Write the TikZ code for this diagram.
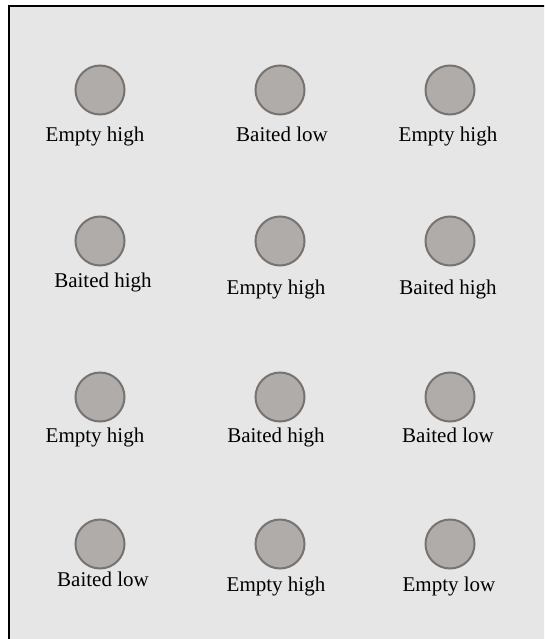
\documentclass[tikz,border=0pt]{standalone}
\usepackage{fontspec}
\setmainfont{Liberation Serif}
\definecolor{panel}{HTML}{E6E6E6}
\definecolor{wellfill}{HTML}{B0ACAA}
\definecolor{wellring}{HTML}{777371}
\begin{document}
\begin{tikzpicture}[x=1pt,y=-1pt,w/.style={circle,draw=wellring,fill=wellfill,line width=2pt,minimum size=49pt,inner sep=0pt},t/.style={anchor=base,inner sep=0pt,font=\fontsize{21}{25}\selectfont}]
\useasboundingbox (0,0) rectangle (544,639);
\clip (0,0) rectangle (544,639);
\draw[line width=2.5pt,fill=panel] (9,6) rectangle (570,670);
\node[w] (w11) at (100,90) {};
\node[w] (w12) at (280,90) {};
\node[w] (w13) at (450,90) {};
\node[w] (w21) at (100,241) {};
\node[w] (w22) at (280,241) {};
\node[w] (w23) at (450,241) {};
\node[w] (w31) at (100,397) {};
\node[w] (w32) at (280,397) {};
\node[w] (w33) at (450,397) {};
\node[w] (w41) at (100,544) {};
\node[w] (w42) at (280,544) {};
\node[w] (w43) at (450,544) {};
\node[t] (t11) at (95,142) {Empty high};
\node[t] (t12) at (282,142) {Baited low};
\node[t] (t13) at (448,142) {Empty high};
\node[t] (t21) at (103,287) {Baited high};
\node[t] (t22) at (276,294) {Empty high};
\node[t] (t23) at (448,294) {Baited high};
\node[t] (t31) at (95,442) {Empty high};
\node[t] (t32) at (276,442) {Baited high};
\node[t] (t33) at (448,442) {Baited low};
\node[t] (t41) at (103,586) {Baited low};
\node[t] (t42) at (276,591) {Empty high};
\node[t] (t43) at (449,591) {Empty low};
\end{tikzpicture}
\end{document}
